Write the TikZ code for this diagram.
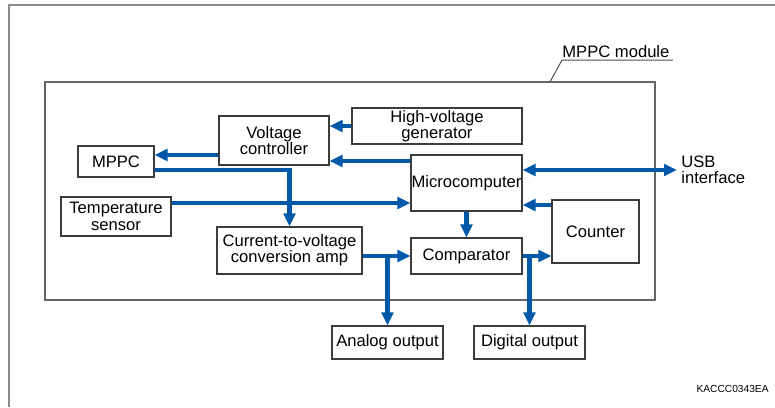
\documentclass[tikz,border=0pt]{standalone}
\usepackage{fontspec}
\setmainfont{Liberation Sans}
\usetikzlibrary{arrows.meta,positioning}
\definecolor{sigblue}{RGB}{0,88,168}
\definecolor{boxgray}{RGB}{60,60,60}

\begin{document}
\begin{tikzpicture}[x=0.5pt, y=-0.5pt,
  >={Triangle[length=6.5pt, width=5.8pt]},
  every node/.style={font=\fontsize{8.3}{8.2}\selectfont},
  block/.style={draw=boxgray, line width=0.6pt, inner sep=0pt, align=center},
  sig/.style={line width=2.4pt, sigblue, ->},
  frame/.style={draw=black!45, line width=1pt}
]
  \useasboundingbox (0,0) rectangle (775,407);
  \draw[frame] (9,407) -- (9,5) -- (775,5);
  % module outline and its label
  \node[draw=black!60, line width=0.75pt, minimum width=305pt, minimum height=109pt] (module) at (350,191) {};
  \node[anchor=base west, inner xsep=0pt, inner ysep=1pt] (modlabel) at (562,57.5) {MPPC module};
  \coordinate (modtip) at (550,82);
  \draw[black!70, line width=0.5pt] ([xshift=1.5pt]modlabel.south east) -- (modlabel.south west) -- (modtip);
  % blocks
  \node[block, minimum width=55pt, minimum height=24.5pt] (vc) at (274,140.5) {Voltage\\controller};
  \node[block, minimum width=38pt, minimum height=15.5pt] (mppc) at (116,161.5) {MPPC};
  \node[block, minimum width=55pt, minimum height=19.5pt] (temp) at (116,216.5) {Temperature\\sensor};
  \node[block, minimum width=72.5pt, minimum height=23.5pt] (amp) at (289.5,250.5) {Current-to-voltage\\conversion amp};
  \node[block, minimum width=85pt, minimum height=18pt] (hv) at (437,126) {High-voltage\\generator};
  \node[block, minimum width=55.5pt, minimum height=28pt] (mc) at (466.5,183) {Microcomputer};
  \node[block, minimum width=43.5pt, minimum height=31.5pt] (counter) at (595.5,231.5) {Counter};
  \node[block, minimum width=55.5pt, minimum height=18pt] (comp) at (466.5,256) {Comparator};
  \node[block, minimum width=55.5pt, minimum height=16.5pt] (analog) at (387.5,342.5) {Analog output};
  \node[block, minimum width=55.5pt, minimum height=16.5pt] (digital) at (529.5,342.5) {Digital output};
  \node[anchor=west, align=left, inner xsep=2pt, inner ysep=0pt] (usb) at (677,170) {USB\\interface};
  \node[anchor=east, inner sep=0pt, font=\fontsize{5.1}{6}\selectfont] (code) at (769,389) {KACCC0343EA};
  % signal paths
  \draw[sig] (hv.west) -- (hv.west -| vc.east);
  \draw[sig] (mc.west |- 0,161) -- (vc.east |- 0,161);
  \draw[sig] (vc.west |- 0,155) -- (mppc.east |- 0,155);
  \draw[sig] (mppc.east |- 0,170) -| (amp.north);
  \draw[sig] (temp.east |- 0,203) -- (mc.west |- 0,203);
  \draw[sig] (mc.south) -- (comp.north);
  \draw[sig] (comp.west -| amp.east) -- (comp.west);
  \draw[sig] (analog.north |- comp.west) -- (analog.north);
  \draw[sig] (comp.east) -- (comp.east -| counter.west);
  \draw[sig] (digital.north |- comp.east) -- (digital.north);
  \draw[sig] (counter.west |- 0,205) -- (mc.east |- 0,205);
  \draw[sig, <->] (mc.east |- usb.west) -- (usb.west);
\end{tikzpicture}
\end{document}
